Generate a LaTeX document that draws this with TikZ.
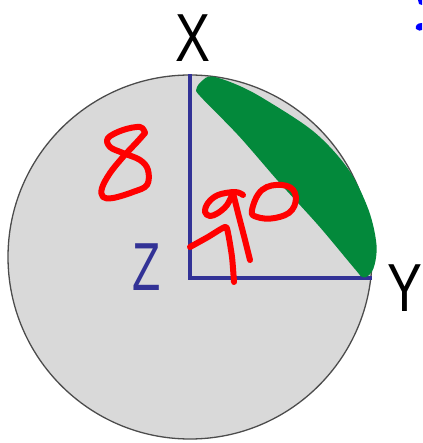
\documentclass[tikz,border=0pt]{standalone}
\usepackage{fontspec}
\setmainfont{Liberation Sans}
\usepackage{graphicx}
\definecolor{navyline}{RGB}{50,50,150}
\definecolor{disc}{RGB}{217,217,217}
\definecolor{greenmark}{RGB}{3,137,59}
\definecolor{penred}{RGB}{255,0,0}
\definecolor{penblue}{RGB}{0,0,255}
\tikzset{
  bigletter/.style={inner sep=0pt, font=\fontsize{68}{68}\selectfont},
  redpen/.style={draw=penred, line width=6pt, line cap=round, line join=round},
  sideline/.style={draw=navyline, line width=4pt, line cap=rect}
}
\begin{document}
\begin{tikzpicture}[x=1pt,y=-1pt]
\useasboundingbox (0,0) rectangle (422,443);
% disc
\node[circle, draw=black!70, line width=1.3pt, fill=disc, minimum size=364pt, inner sep=0pt] (disc) at (190,257) {};
% triangle legs
\coordinate (X) at (190,76);
\coordinate (Z) at (190,278);
\coordinate (Y) at (370,278);
\draw[sideline] (X) -- (Z) -- (Y);
% green segment
\fill[fill=greenmark, draw=greenmark, line width=3pt, line join=round]
  plot[smooth cycle, tension=0.55] coordinates {
   (203,82) (212,78) (236,86) (263,100) (313,133) (347,170) (367,210)
   (375,245) (372,268) (364,276) (356,268) (320,225) (280,181) (240,135) (202,96) (198,89)};
% labels
\node[bigletter] (lx) at (193,38) {\scalebox{0.77}[1]{X}};
\node[bigletter] (ly) at (405,288) {\scalebox{0.77}[1]{Y}};
\node[bigletter, text=navyline] (lz) at (147,267) {\scalebox{0.68}[1]{Z}};
% handwritten 8
\draw[redpen] plot[smooth, tension=0.6] coordinates {
  (145,133) (140,127) (123,130) (108,138) (110,147) (123,153) (140,160) (148,170)
  (147,185) (133,192) (113,198) (103,197) (102,188) (110,173) (123,157) (137,142) (145,133)};
% handwritten 9
\draw[redpen] plot[smooth, tension=0.6] coordinates {
  (243,195) (235,192) (218,195) (208,203) (205,212) (210,216) (218,213) (227,205) (233,193)};
\draw[redpen] plot[smooth, tension=0.5] coordinates {(233,193) (238,213) (245,240) (250,260)};
\draw[redpen] plot[smooth, tension=0.4] coordinates {(190,247) (208,237) (225,227) (228,233) (232,257) (234,282)};
% degree o
\draw[redpen] plot[smooth cycle, tension=0.7] coordinates {
  (252,210) (262,190) (282,185) (295,193) (292,210) (275,218) (257,217)};
% blue marks at top right
\begin{scope}
\clip (0,0) rectangle (422,443);
\fill[penblue] (422,0) -- (418,0) -- (419,4) -- (422,5) -- cycle;
\fill[penblue] (422,23) .. controls (417,23) and (415,26) .. (416,29) .. controls (418,31) and (421,31) .. (422,30) -- cycle;
\end{scope}
\end{tikzpicture}
\end{document}
